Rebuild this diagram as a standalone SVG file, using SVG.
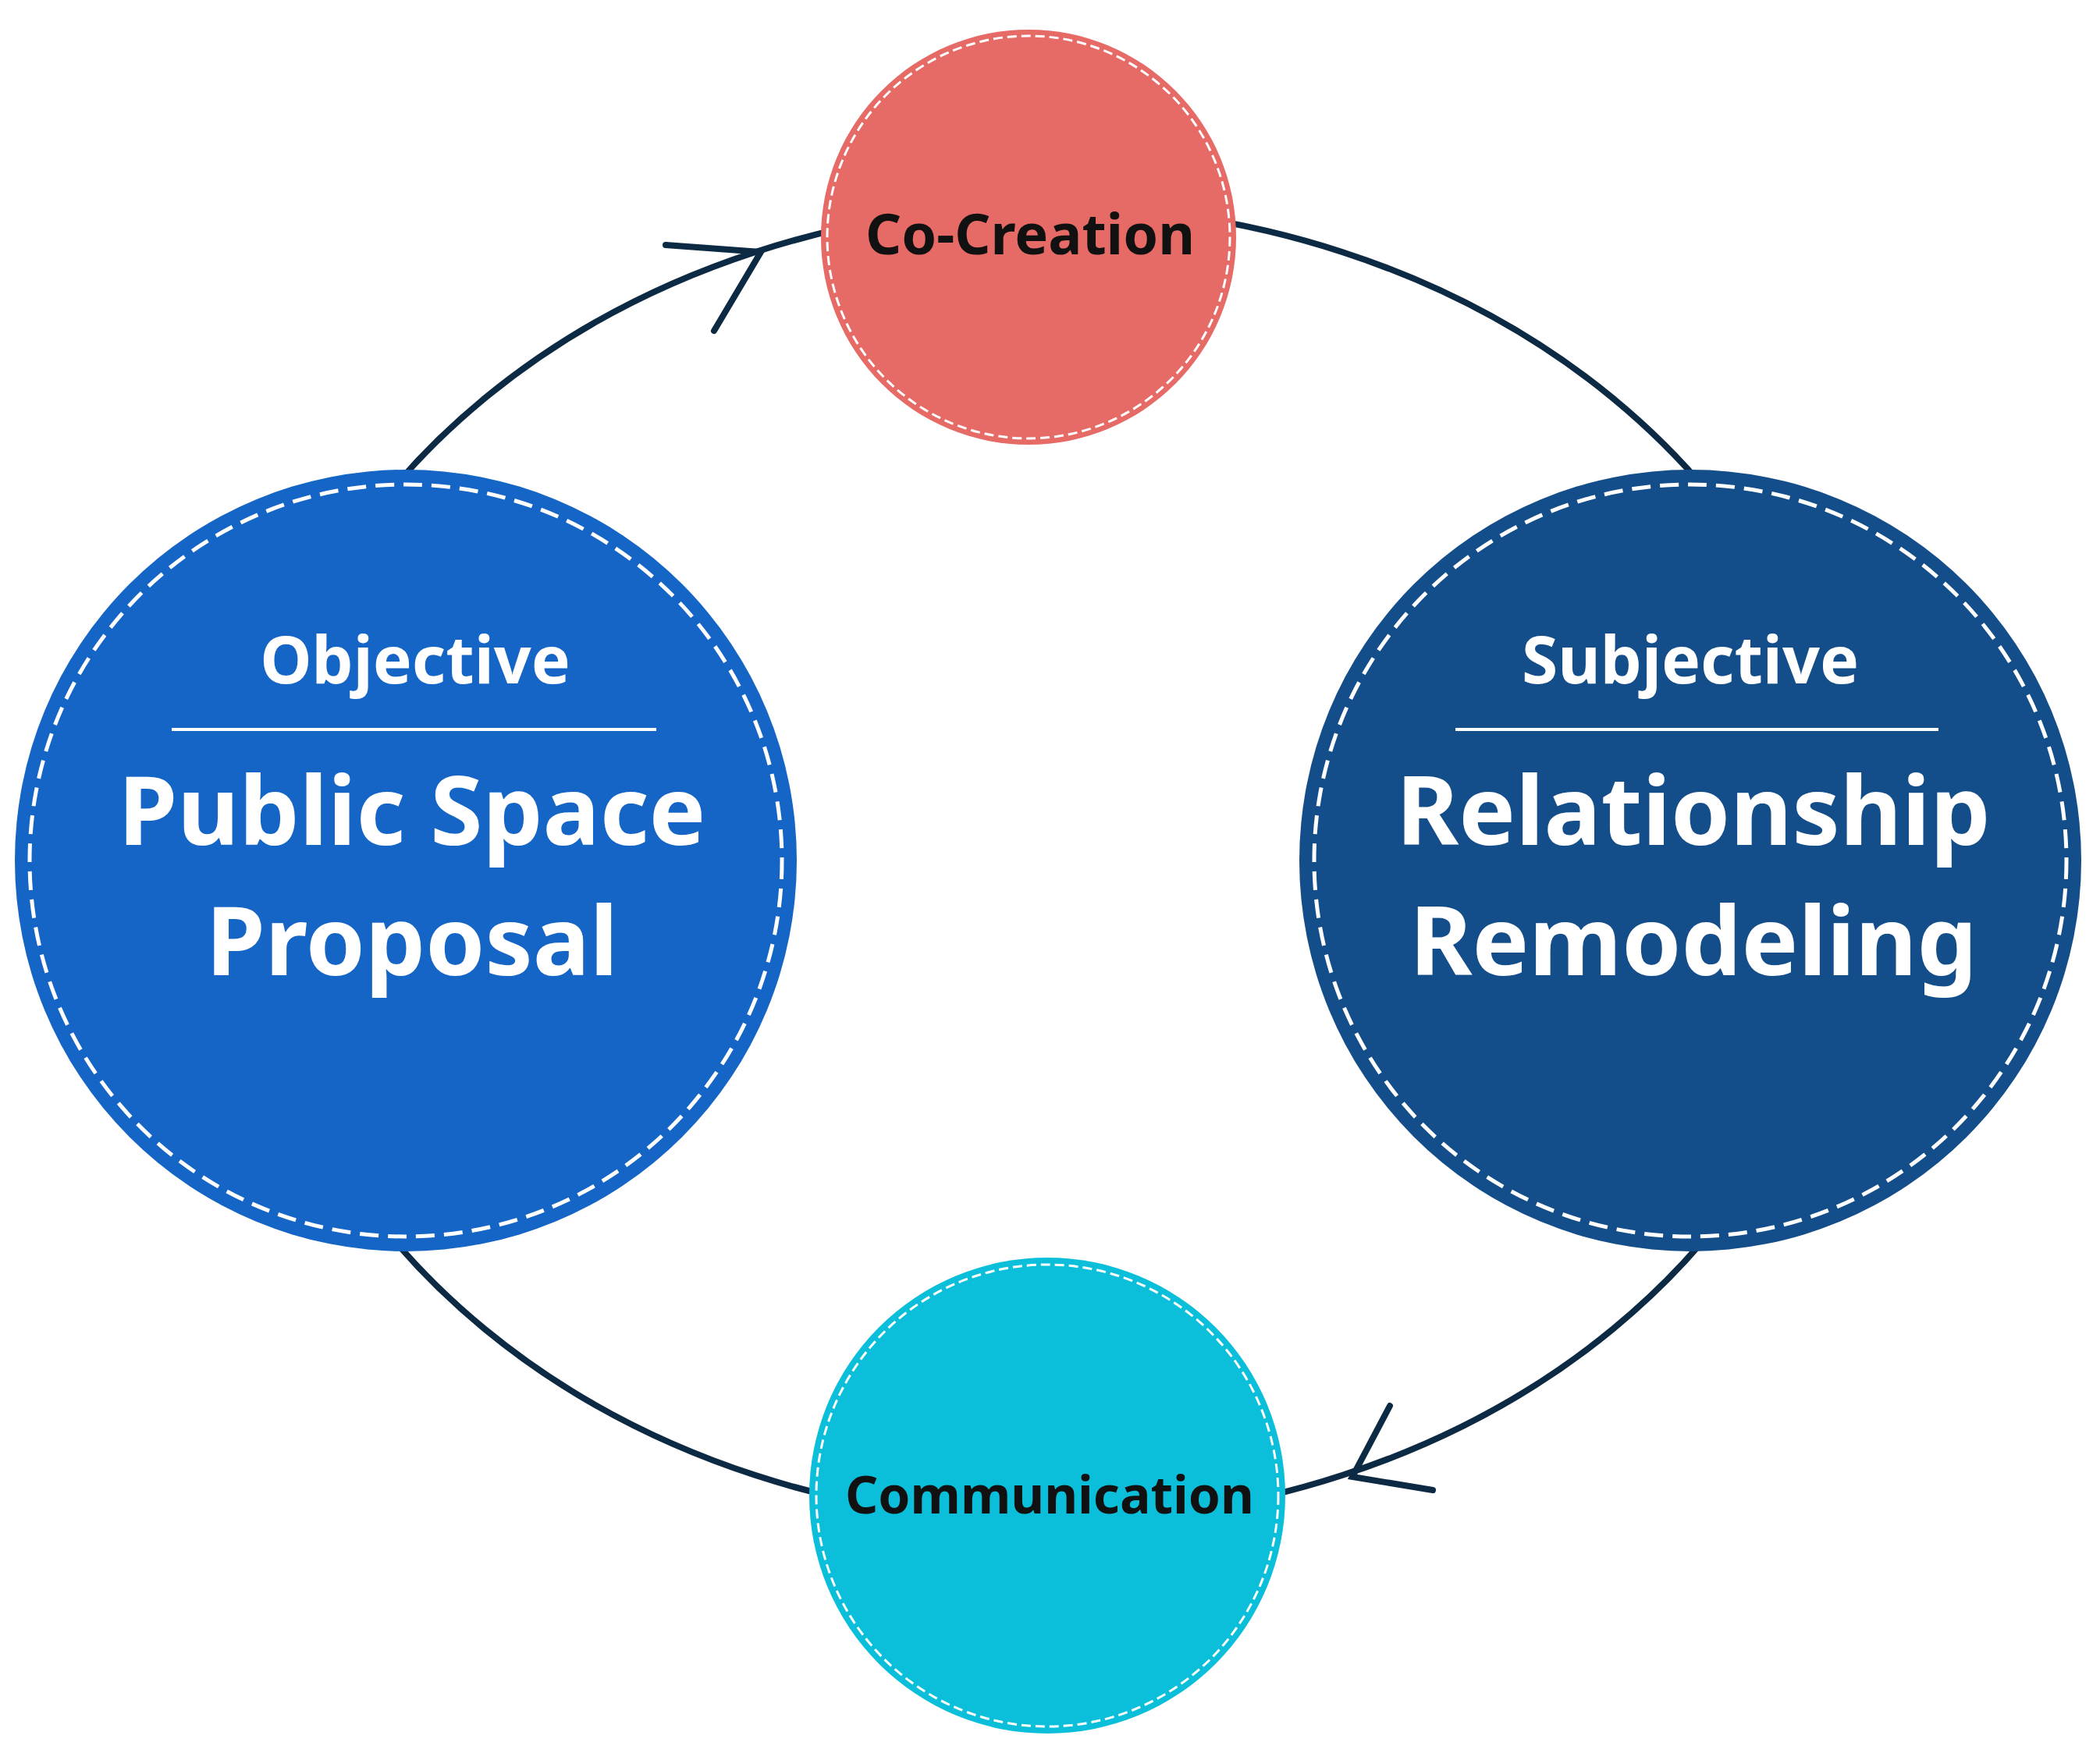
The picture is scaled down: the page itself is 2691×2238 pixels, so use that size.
<svg xmlns="http://www.w3.org/2000/svg" width="2691" height="2238" viewBox="0 0 2691 2238">
<style>
.ring{fill:none;stroke:#0d2a45;stroke-width:8}
.dash{fill:none;stroke:#fff;stroke-width:5;stroke-dasharray:24 12}
.dsm{fill:none;stroke:#fff;stroke-width:3;stroke-dasharray:12 6}
.t{font-family:"Noto Sans","Open Sans",sans-serif;font-weight:bold;text-anchor:middle}
.w{fill:#fff}
.k{fill:#111}
</style>
<rect width="2691" height="2238" fill="#fff"/>
<g id="connectors">
<ellipse class="ring" cx="1344" cy="1107" rx="1023" ry="843"/>
<polyline class="ring" stroke-linecap="round" points="853,314 975,323 915,424"/>
<polyline class="ring" stroke-linecap="round" points="1836,1910 1733,1893 1781,1802"/>
</g>
<g id="cocreation">
<circle cx="1318" cy="304" r="266" fill="#e66a66"/>
<circle class="dsm" cx="1318" cy="304" r="258"/>
<text class="t k" x="1320" y="326" font-size="72">Co-Creation</text>
</g>
<g id="objective">
<circle cx="520" cy="1103" r="501" fill="#1565c6"/>
<circle class="dash" cx="520" cy="1103" r="482"/>
<text class="t w" x="532" y="876" font-size="84">Objective</text>
<line x1="220" y1="935" x2="841" y2="935" stroke="#fff" stroke-width="4"/>
<text class="t w" x="528" y="1083" font-size="122">Public Space</text>
<text class="t w" x="528" y="1250" font-size="122">Proposal</text>
</g>
<g id="subjective">
<circle cx="2166" cy="1103" r="501" fill="#144e8a"/>
<circle class="dash" cx="2166" cy="1103" r="482"/>
<text class="t w" x="2166" y="876" font-size="84">Subjective</text>
<line x1="1865" y1="935" x2="2484" y2="935" stroke="#fff" stroke-width="4"/>
<text class="t w" x="2170" y="1083" font-size="122">Relationship</text>
<text class="t w" x="2170" y="1250" font-size="122">Remodeling</text>
</g>
<g id="communication">
<circle cx="1342" cy="1917" r="305" fill="#0bbfdb"/>
<circle class="dsm" cx="1342" cy="1917" r="296"/>
<text class="t k" x="1345" y="1940" font-size="66">Communication</text>
</g>
</svg>
